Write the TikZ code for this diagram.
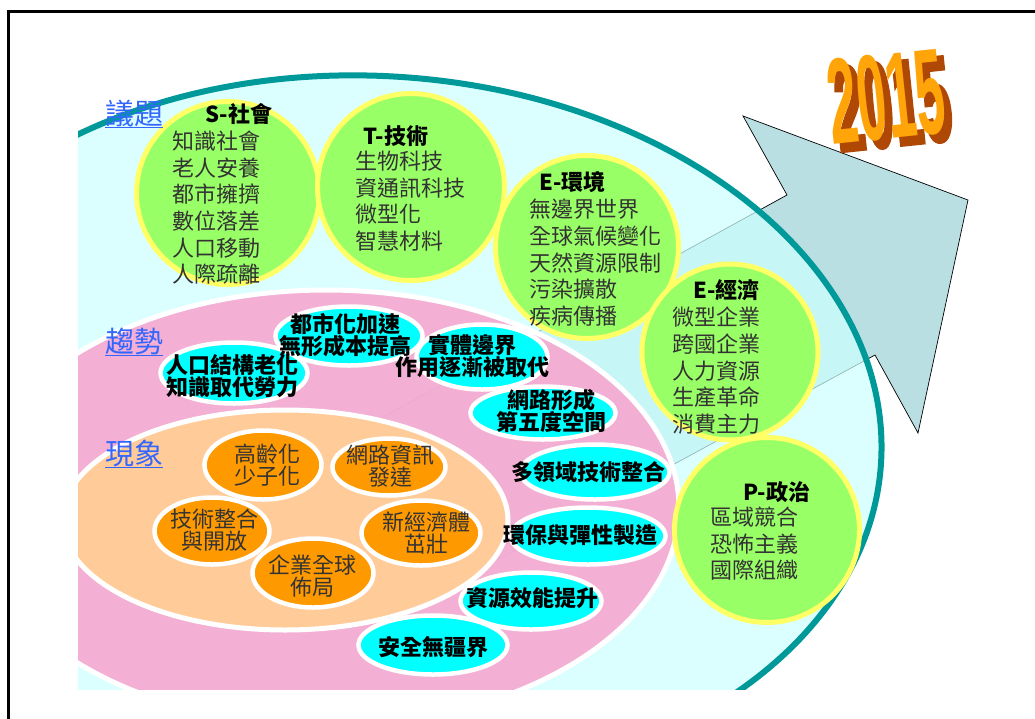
\documentclass[tikz,border=0pt]{standalone}
\usepackage{fontspec}
\newfontfamily\cjk{Noto Sans CJK TC}
\newfontfamily\yearfont{Liberation Sans Bold}
\newfontfamily\yearthick[FakeBold=2.5]{Liberation Sans Bold}
\usetikzlibrary{shapes.geometric}

\definecolor{ringteal}{RGB}{0,153,153}
\definecolor{skycyan}{RGB}{205,255,255}
\definecolor{trendpink}{RGB}{247,168,208}
\definecolor{trendcyan}{RGB}{0,255,255}
\definecolor{peach}{RGB}{255,204,153}
\definecolor{signorange}{RGB}{255,153,0}
\definecolor{issuegreen}{RGB}{153,255,102}
\definecolor{issueyellow}{RGB}{255,255,102}
\definecolor{arrowblue}{RGB}{185,223,227}
\definecolor{labelblue}{RGB}{51,102,255}
\definecolor{yearfront}{RGB}{255,165,10}
\definecolor{yearside}{RGB}{176,72,5}

\begin{document}
\begin{tikzpicture}[
        x=1pt, y=-1pt,
        issue/.style = {circle, draw=issueyellow, fill=issuegreen, line width=5pt, inner sep=0pt},
        trend/.style = {ellipse, draw=white, fill=trendcyan, line width=4.5pt, inner sep=0pt},
        sign/.style = {ellipse, draw=white, fill=signorange, line width=4.5pt, inner sep=0pt},
        title/.style = {anchor=north west, inner sep=0pt, font=\cjk\bfseries\fontsize{22}{26}\selectfont},
        items/.style = {anchor=north west, inner sep=0pt, align=left, text=black!80,
                        font=\cjk\fontsize{22}{26.6}\selectfont},
        trendtext/.style = {inner sep=0pt, align=center, font=\cjk\bfseries\fontsize{22}{21.5}\selectfont},
        signtext/.style = {inner sep=0pt, align=center, text=black!80, font=\cjk\fontsize{22}{22}\selectfont},
        level/.style = {anchor=north west, inner sep=0pt, text=labelblue, font=\cjk\fontsize{29}{29}\selectfont},
        yearback/.style = {inner sep=0pt, rotate=6, xscale=0.43, text=yearside,
                           font=\yearthick\fontsize{122}{122}\selectfont},
        yeartext/.style = {inner sep=0pt, rotate=6, xscale=0.43, text=yearfront,
                           font=\yearfont\fontsize{122}{122}\selectfont}
    ]
    \useasboundingbox (0,0) rectangle (1035,718);

    % Frame
    \draw[line width=3.5pt] (8.7,730) -- (8.7,11.7) -- (1045,11.7);

    % Arrow (under the big ellipse)
    \filldraw[fill=arrowblue, draw=black, line width=0.7pt]
        (330,446) -- (787,195) -- (743,116) -- (968,200) -- (918,433) -- (875,355) -- (470,575) -- cycle;

    % Year
    \node[yearback] (yearside) at (893,104) {2015};
    \node[yeartext] (year) at (886,97) {2015};

    % Layers
    \begin{scope}
        \clip (78,0) rectangle (1035,689);
        \filldraw[fill=skycyan, fill opacity=0.72, draw=ringteal, line width=6pt,
                  rotate around={-3.4:(375,432)}] (375,432) ellipse [x radius=507, y radius=356];
        \filldraw[fill=trendpink, fill opacity=0.9, draw=white, line width=5pt]
            (326,508) ellipse [x radius=353, y radius=218];
        \filldraw[fill=peach, draw=white, line width=5pt]
            (285,520) ellipse [x radius=223, y radius=110];
    \end{scope}

    % Phenomena
    \node[sign, minimum width=117, minimum height=69] (aging) at (263,465) {};
    \node[sign, minimum width=113, minimum height=57] (network) at (389,467) {};
    \node[sign, minimum width=115, minimum height=67] (integrate) at (212,531) {};
    \node[sign, minimum width=119, minimum height=65] (neweco) at (421,533) {};
    \node[sign, minimum width=121, minimum height=69] (global) at (313,573) {};

    % Trends
    \node[trend, minimum width=147, minimum height=59] (urban) at (349,336) {};
    \node[trend, minimum width=147, minimum height=61] (population) at (234,373) {};
    \node[trend, minimum width=131, minimum height=65] (border) at (482,357) {};
    \node[trend, minimum width=145, minimum height=53] (fifth) at (543,413) {};
    \node[trend, minimum width=149, minimum height=55] (crossfield) at (595,472) {};
    \node[trend, minimum width=155, minimum height=57] (greenmfg) at (588,536) {};
    \node[trend, minimum width=141, minimum height=57] (resource) at (531,601) {};
    \node[trend, minimum width=149, minimum height=59] (security) at (433,645) {};

    % Issues
    \node[issue, minimum size=183] (social) at (228,193) {};
    \node[issue, minimum size=187] (tech) at (411,187) {};
    \node[issue, minimum size=183] (environ) at (587,247) {};
    \node[issue, minimum size=176] (economy) at (730,352) {};
    \node[issue, minimum size=185] (politics) at (767,530) {};

    % Level labels
    \node[level] (issuelbl) at (105,100) {議題};
    \node[level] (trendlbl) at (105,328) {趨勢};
    \node[level] (phenolbl) at (105,440) {現象};
    \draw[labelblue, line width=1.5pt] (issuelbl.south west) -- (issuelbl.south east);
    \draw[labelblue, line width=1.5pt] (trendlbl.south west) -- (trendlbl.south east);
    \draw[labelblue, line width=1.5pt] (phenolbl.south west) -- (phenolbl.south east);

    % Issue texts
    \node[title] (social-t) at (205,103) {S-社會};
    \node[items] (social-i) at (172,131) {知識社會\\老人安養\\都市擁擠\\數位落差\\人口移動\\人際疏離};
    \node[title] (tech-t) at (363,125) {T-技術};
    \node[items] (tech-i) at (355,151) {生物科技\\資通訊科技\\微型化\\智慧材料};
    \node[title] (environ-t) at (539,171) {E-環境};
    \node[items] (environ-i) at (529,199) {無邊界世界\\全球氣候變化\\天然資源限制\\污染擴散\\疾病傳播};
    \node[title] (economy-t) at (693,279) {E-經濟};
    \node[items] (economy-i) at (672,307) {微型企業\\跨國企業\\人力資源\\生產革命\\消費主力};
    \node[title] (politics-t) at (743,481) {P-政治};
    \node[items] (politics-i) at (710,507) {區域競合\\恐怖主義\\國際組織};

    % Trend texts
    \node[trendtext] (urban-t) at (345,335) {都市化加速\\無形成本提高};
    \node[trendtext] (population-t) at (232,376) {人口結構老化\\知識取代勞力};
    \node[trendtext] (border-t) at (472,356) {實體邊界\\作用逐漸被取代};
    \node[trendtext] (fifth-t) at (551,411) {網路形成\\第五度空間};
    \node[trendtext] (crossfield-t) at (588,472) {多領域技術整合};
    \node[trendtext] (greenmfg-t) at (580,535) {環保與彈性製造};
    \node[trendtext] (resource-t) at (532,598) {資源效能提升};
    \node[trendtext] (security-t) at (433,647) {安全無疆界};

    % Phenomenon texts
    \node[signtext] (aging-t) at (267,465) {高齡化\\少子化};
    \node[signtext] (network-t) at (390,466) {網路資訊\\發達};
    \node[signtext] (integrate-t) at (214,530) {技術整合\\與開放};
    \node[signtext] (neweco-t) at (426,533) {新經濟體\\茁壯};
    \node[signtext] (global-t) at (312,576) {企業全球\\佈局};

\end{tikzpicture}
\end{document}
